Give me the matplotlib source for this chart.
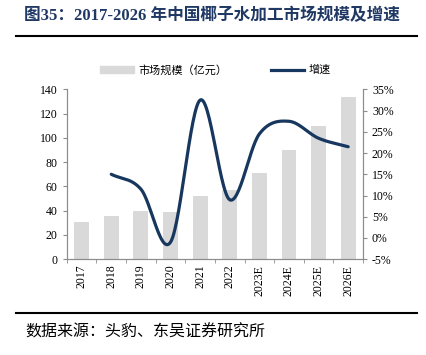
import numpy as np
import matplotlib
matplotlib.use("Agg")
import matplotlib.pyplot as plt
from matplotlib.lines import Line2D
from matplotlib.patches import Patch

plt.rcParams["font.family"] = ["Liberation Serif", "Noto Sans CJK SC"]

years = ["2017", "2018", "2019", "2020", "2021", "2022",
         "2023E", "2024E", "2025E", "2026E"]
market = [31, 36, 40, 39, 52, 57, 71, 90, 110, 134]
growth = [None, 15.0, 11.5, -1.0, 32.5, 9.0, 24.5, 27.5, 23.5, 21.5]

bar_color = "#D9D9D9"
line_color = "#17375E"
spine_color = "#8C8C8C"


def catmull_rom(xs, ys, n=30):
    # smooth curve through the points, like Excel's smoothed line
    xs = np.asarray(xs, float)
    ys = np.asarray(ys, float)
    px = np.concatenate([[2 * xs[0] - xs[1]], xs, [2 * xs[-1] - xs[-2]]])
    py = np.concatenate([[2 * ys[0] - ys[1]], ys, [2 * ys[-1] - ys[-2]]])
    out_x, out_y = [], []
    t = np.linspace(0, 1, n)
    for i in range(1, len(px) - 2):
        for p, out in ((px, out_x), (py, out_y)):
            p0, p1, p2, p3 = p[i - 1], p[i], p[i + 1], p[i + 2]
            out.extend(0.5 * ((2 * p1) + (-p0 + p2) * t
                              + (2 * p0 - 5 * p1 + 4 * p2 - p3) * t ** 2
                              + (-p0 + 3 * p1 - 3 * p2 + p3) * t ** 3))
    return np.array(out_x), np.array(out_y)


fig = plt.figure(figsize=(4.26, 3.55), dpi=100)
ax = fig.add_axes([0.157, 0.270, 0.695, 0.478])
ax2 = ax.twinx()

x = np.arange(len(years))
ax.bar(x, market, width=0.5, color=bar_color, zorder=1)
ax.set_xlim(-0.5, len(years) - 0.5)
ax.set_ylim(0, 140)
ax.set_yticks(range(0, 141, 20))
ax.set_xticks(x)
ax.set_xticklabels(years, rotation=90, fontsize=8.5)
ax.set_xticks(np.arange(-0.5, len(years), 1), minor=True)
ax.tick_params(axis="x", which="major", length=0, pad=4)
ax.tick_params(axis="x", which="minor", length=3, color=spine_color, direction="out")
ax.tick_params(axis="y", length=3, color=spine_color, labelsize=8.5)

gx = [i for i, g in enumerate(growth) if g is not None]
gy = [g for g in growth if g is not None]
sx, sy = catmull_rom(gx, gy)
ax2.plot(sx, sy, color=line_color, linewidth=2.3, solid_capstyle="round", zorder=3)
ax2.set_ylim(-5, 35)
ax2.set_yticks(range(-5, 36, 5))
ax2.set_yticklabels([f"{v}%" for v in range(-5, 36, 5)])
ax2.tick_params(axis="y", length=3, color=spine_color, labelsize=8.5)

for a in (ax, ax2):
    a.spines["top"].set_visible(False)
    for s in ("left", "right", "bottom"):
        a.spines[s].set_color(spine_color)
        a.spines[s].set_linewidth(0.8)

handles = [Patch(color=bar_color), Line2D([0], [0], color=line_color, linewidth=2.3)]
fig.legend(handles, ["市场规模（亿元）", "增速"], ncol=2, frameon=False,
           loc="center", bbox_to_anchor=(0.506, 0.803),
           handlelength=3.0, handleheight=0.6, handletextpad=0.4,
           columnspacing=3.9,
           prop={"family": ["Noto Sans CJK SC"], "size": 8})

fig.text(0.057, 0.955, "图35：2017-2026 年中国椰子水加工市场规模及增速",
         fontsize=12, fontweight="bold", color="#1F3864", va="center",
         family=["Liberation Serif", "Noto Sans CJK SC"])
fig.add_artist(Line2D([0.038, 0.979], [0.899, 0.899], color="black", linewidth=1.5))
fig.add_artist(Line2D([0.038, 0.979], [0.118, 0.118], color="black", linewidth=1.5))
fig.text(0.059, 0.065, "数据来源：头豹、东吴证券研究所", fontsize=11.5,
         va="center", family=["Noto Sans CJK SC"])

fig.savefig("out.png", dpi=100)
